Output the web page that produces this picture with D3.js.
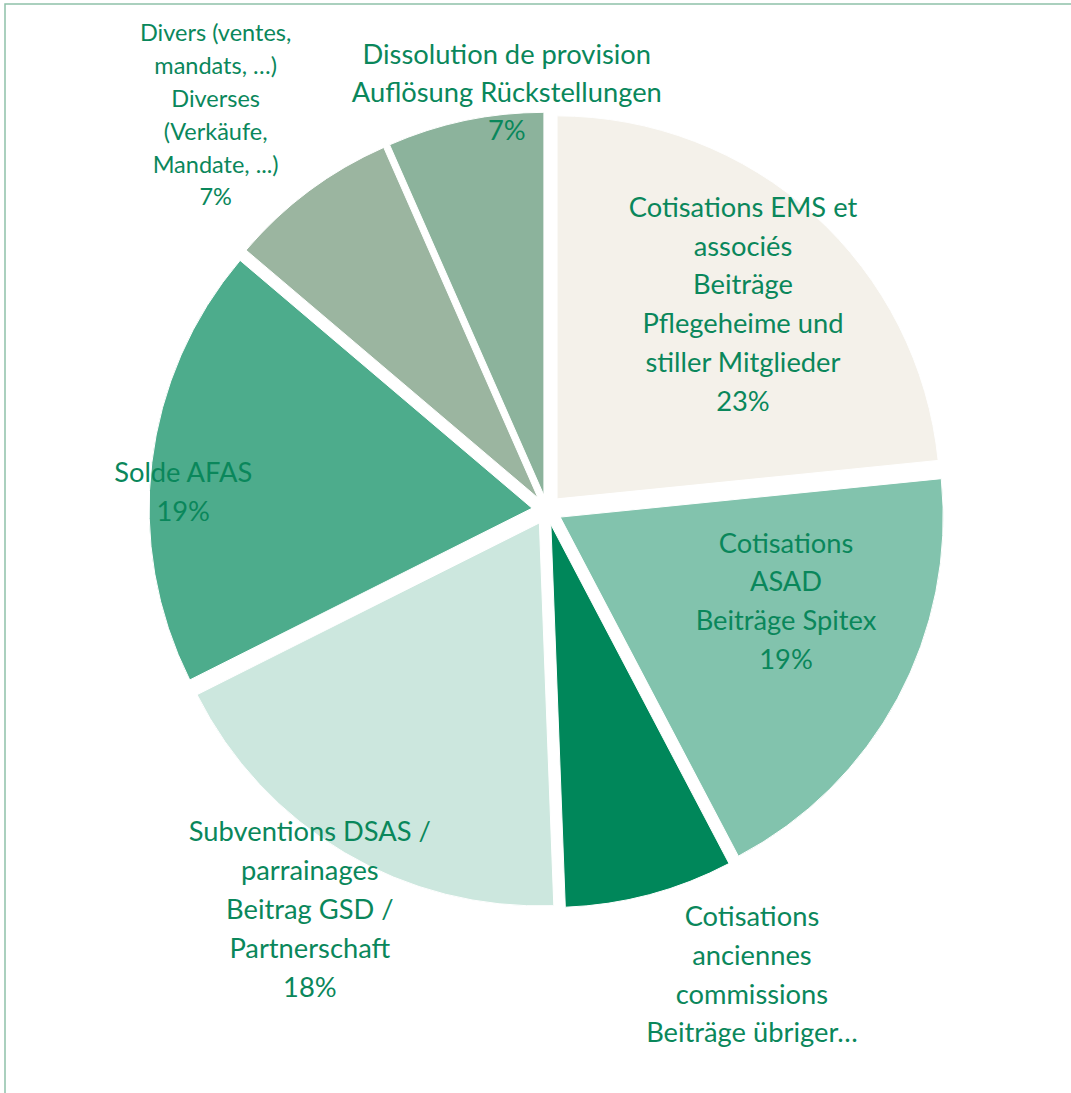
<!DOCTYPE html>
<html>
<head>
<meta charset="utf-8">
<script src="https://cdn.jsdelivr.net/npm/d3@7"></script>
<style>
  html, body { margin: 0; padding: 0; background: #fff; }
  svg { display: block; }
</style>
</head>
<body>
<svg id="pie-svg"></svg>
<script>
const width = 1071, height = 1093;

// slices, clockwise from 12 o'clock
const categories = [
  "Cotisations EMS et associés Beiträge Pflegeheime und stiller Mitglieder",
  "Cotisations ASAD Beiträge Spitex",
  "Cotisations anciennes commissions Beiträge übriger Kommissionen",
  "Subventions DSAS / parrainages Beitrag GSD / Partnerschaft",
  "Solde AFAS",
  "Divers (ventes, mandats, ...) Diverses (Verkäufe, Mandate, ...)",
  "Dissolution de provision Auflösung Rückstellungen"
];
const values = [23.4, 18.9, 7.1, 18.2, 18.6, 7.2, 6.6];
const sliceColors = ["#F4F1EA", "#82C3AD", "#00875A", "#CCE7DE", "#4DAC8C", "#9BB5A0", "#8CB39C"];

// label text as Excel wrapped it (percentage appended below, except the truncated one)
const labelLines = [
  ["Cotisations EMS et", "associés", "Beiträge", "Pflegeheime und", "stiller Mitglieder"],
  ["Cotisations", "ASAD", "Beiträge Spitex"],
  ["Cotisations", "anciennes", "commissions", "Beiträge übriger…"],
  ["Subventions DSAS /", "parrainages", "Beitrag GSD /", "Partnerschaft"],
  ["Solde AFAS"],
  ["Divers (ventes,", "mandats, …)", "Diverses", "(Verkäufe,", "Mandate, ...)"],
  ["Dissolution de provision", "Auflösung Rückstellungen"]
];
const showPct = [true, true, false, true, true, true, true];

// label placement: angle (deg, clockwise from top) and distance as share of radius
const labelAngle = [43.6, 110.9, 156.2, 210.7, 272.8, 320.0, 354.5];
const labelDist  = [0.742, 0.668, 1.326, 1.213, 0.951, 1.346, 1.095];
const labelSize  = [27.3, 27.3, 27.3, 27.3, 27.3, 23.5, 27.3];
const lineGap    = [38.8, 38.8, 38.8, 38.8, 38.8, 32.8, 38.2];

const cx = 547, cy = 510, radius = 383, explode = 15;

const svg = d3.select("#pie-svg")
    .attr("width", width)
    .attr("height", height)
    .attr("viewBox", [0, 0, width, height]);

// frame (chart area border, only left/top visible)
svg.append("path")
    .attr("d", `M5,${height} L5,4 L${width},4`)
    .attr("fill", "none")
    .attr("stroke", "#8FC1A9")
    .attr("stroke-width", 1.5);

const pie = d3.pie().sort(null).value(d => d);
const arcs = pie(values);
const arc = d3.arc().innerRadius(0).outerRadius(radius);

const total = d3.sum(values);

const g = svg.append("g").attr("transform", `translate(${cx},${cy})`);

g.selectAll("path")
  .data(arcs)
  .join("path")
    .attr("d", arc)
    .attr("fill", (d, i) => sliceColors[i])
    .attr("stroke", "#fff")
    .attr("stroke-width", 1)
    .attr("transform", d => {
      const a = (d.startAngle + d.endAngle) / 2;
      return `translate(${explode * Math.sin(a)},${-explode * Math.cos(a)})`;
    });

// LABELS
g.selectAll("text")
  .data(arcs)
  .join("text")
    .attr("fill", "#0A875B")
    .attr("text-anchor", "middle")
    .style("font-family", "Lato, 'Open Sans', sans-serif")
    .style("font-size", (d, i) => labelSize[i] + "px")
    .each(function(d, i) {
      const a = labelAngle[i] * Math.PI / 180;
      const x = labelDist[i] * radius * Math.sin(a);
      const y = -labelDist[i] * radius * Math.cos(a);
      const lines = labelLines[i].slice();
      if (showPct[i]) lines.push(Math.round(d.value / total * 100) + "%");
      const lh = lineGap[i];
      const y0 = y - (lines.length - 1) * lh / 2;
      d3.select(this).selectAll("tspan")
        .data(lines)
        .join("tspan")
          .attr("x", x)
          .attr("y", (t, j) => y0 + j * lh)
          .attr("dy", "0.35em")
          .text(t => t);
    });
</script>
</body>
</html>
